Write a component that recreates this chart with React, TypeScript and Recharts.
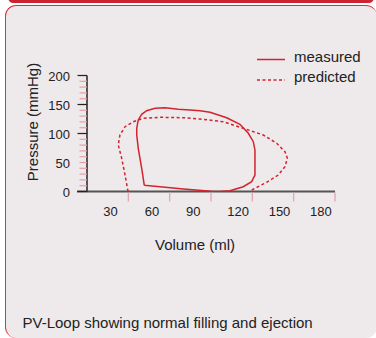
import React from "react";
import { LineChart, Line, XAxis, YAxis, ReferenceLine, Legend, Label } from "recharts";

// Measured PV loop (volume ml, pressure mmHg)
const measuredVolume = [41.6, 39.7, 37.2, 36.1, 36.1, 37.2, 39.7, 43.3, 49.4, 56.6, 66.3, 74.8, 82, 89.3, 101.4, 111, 117.1, 120.7, 121.9, 121.9, 119.5, 113.4, 103.8, 96.5, 90, 70, 41.6];
const measuredPressure = [10.7, 40, 74.5, 97.4, 109, 123.3, 133.1, 139.3, 143.4, 144.5, 141.7, 140.5, 139.3, 136.6, 127.2, 115.9, 100.3, 85.9, 71.6, 28.4, 16.9, 8.3, 1.4, 0, 0.5, 4.5, 10.7];

// Predicted PV loop (open curve)
const predictedVolume = [29.8, 27.6, 25.2, 22.7, 23.9, 27.6, 33.6, 40.9, 53, 69.9, 82, 98.9, 113.4, 128, 137.7, 143.7, 145.4, 143.7, 138.8, 130.4, 121.9, 119.5];
const predictedPressure = [0, 28.4, 57.2, 80.2, 97.4, 111.7, 120.3, 126.2, 127.9, 127.2, 125, 120.3, 109, 97.4, 83.1, 68.6, 57.2, 42.8, 28.4, 15.9, 5.5, 2.6];

const xTicks = [30, 60, 90, 120, 150, 180];
const yTicks = [0, 10, 20, 30, 40, 50, 60, 70, 80, 90, 100, 110, 120, 130, 140, 150, 160, 170, 180, 190, 200];
const yMajor = [0, 50, 100, 150, 200];

const seriesNames = ["measured", "predicted"];
const caption = "PV-Loop showing normal filling and ejection";
const xTitle = "Volume (ml)";
const yTitle = "Pressure (mmHg)";

const measuredData = measuredVolume.map((v, i) => ({ v, p: measuredPressure[i] }));
const predictedData = predictedVolume.map((v, i) => ({ v, p: predictedPressure[i] }));

const RED = "#d2232f";
const PINK = "#e3a0ab";
const FONT = "'Liberation Sans', Arial, sans-serif";

const W = 376;
const H = 338;
const M = { top: 75.5, right: 41, bottom: 116.5, left: 0 };
const Y_W = 87;
const X_H = 30;
const PLOT_LEFT = M.left + Y_W;
const PLOT_BOTTOM = H - M.bottom - X_H;

const XTick = (props: any) => {
  const { x, payload } = props;
  return (
    <g>
      <line x1={x} x2={x} y1={PLOT_BOTTOM + 1} y2={PLOT_BOTTOM + 10} stroke={PINK} strokeWidth={1.2} />
      <text x={x - 25} y={PLOT_BOTTOM + 24} textAnchor="start" fontSize={13} fill="#222" fontFamily={FONT}>
        {payload.value}
      </text>
    </g>
  );
};

const YTick = (props: any) => {
  const { y, payload } = props;
  const major = yMajor.includes(payload.value);
  return (
    <g>
      <line x1={PLOT_LEFT - 7.5} x2={PLOT_LEFT} y1={y} y2={y} stroke={PINK} strokeWidth={1.2} />
      {major && payload.value !== 50 && (
        <line x1={PLOT_LEFT - 9.5} x2={PLOT_LEFT} y1={y} y2={y} stroke="#222" strokeWidth={1.2} />
      )}
      {major && (
        <text x={70} y={y + 5} textAnchor="end" fontSize={13} fill="#222" fontFamily={FONT}>
          {payload.value}
        </text>
      )}
    </g>
  );
};

const LegendContent = () => (
  <svg width={120} height={45} style={{ display: "block" }}>
    <line x1={7} x2={35} y1={15.5} y2={15.5} stroke={RED} strokeWidth={1.5} />
    <text x={44} y={17.5} fontSize={15} fill="#222" fontFamily={FONT}>{seriesNames[0]}</text>
    <line x1={7} x2={35} y1={36} y2={36} stroke={RED} strokeWidth={1.5} strokeDasharray="3 2.5" />
    <text x={44} y={37.5} fontSize={15} fill="#222" fontFamily={FONT}>{seriesNames[1]}</text>
  </svg>
);

export default function App() {
  return (
    <div style={{ position: "absolute", left: 0, top: 0, width: W, height: H, background: "#fff", overflow: "hidden", fontFamily: FONT }}>
      <div style={{ position: "absolute", left: 8, top: -8, width: 366, height: 10.5, background: "#cc2231", borderRadius: 10 }} />
      <div style={{ position: "absolute", left: 4.5, top: 5, width: 372, height: 333, border: "1px solid #d8343f", borderRight: "none", borderBottom: "none", borderRadius: 11, background: "#eee9eb", boxSizing: "border-box" }} />
      <div style={{ position: "absolute", left: 0, top: 0 }}>
        <LineChart width={W} height={H} margin={M}>
          <XAxis
            type="number"
            dataKey="v"
            domain={[0, 180]}
            ticks={xTicks}
            interval={0}
            height={X_H}
            axisLine={false}
            tickLine={false}
            tick={<XTick />}
            allowDataOverflow
          >
            <Label
              content={() => (
                <text x={155} y={250} textAnchor="start" fontSize={15} fill="#222" fontFamily={FONT}>{xTitle}</text>
              )}
            />
          </XAxis>
          <YAxis
            type="number"
            dataKey="p"
            domain={[0, 200]}
            ticks={yTicks}
            interval={0}
            width={Y_W}
            axisLine={{ stroke: "#222", strokeWidth: 1.5 }}
            tickLine={false}
            tick={<YTick />}
            allowDataOverflow
          >
            <Label
              content={() => (
                <text transform="translate(38,122) rotate(-90)" textAnchor="middle" fontSize={15} fill="#222" fontFamily={FONT}>{yTitle}</text>
              )}
            />
          </YAxis>
          <ReferenceLine
            segment={[{ x: -7.3, y: 0 }, { x: 180, y: 0 }]}
            stroke="#555"
            strokeWidth={2}
            ifOverflow="visible"
          />
          <Line data={measuredData} dataKey="p" type="linear" stroke={RED} strokeWidth={1.5} dot={false} activeDot={false} isAnimationActive={false} name={seriesNames[0]} />
          <Line data={predictedData} dataKey="p" type="linear" stroke={RED} strokeWidth={1.5} strokeDasharray="3 2.5" dot={false} activeDot={false} isAnimationActive={false} name={seriesNames[1]} />
          <Legend
            layout="vertical"
            align="center"
            verticalAlign="middle"
            content={<LegendContent />}
            wrapperStyle={{ position: "absolute", left: 250, top: 44, width: 120, height: 45 }}
          />
        </LineChart>
      </div>
      <div style={{ position: "absolute", left: 22.5, top: 315.3, fontSize: 15, lineHeight: "15px", color: "#222", whiteSpace: "nowrap" }}>
        {caption}
      </div>
    </div>
  );
}
